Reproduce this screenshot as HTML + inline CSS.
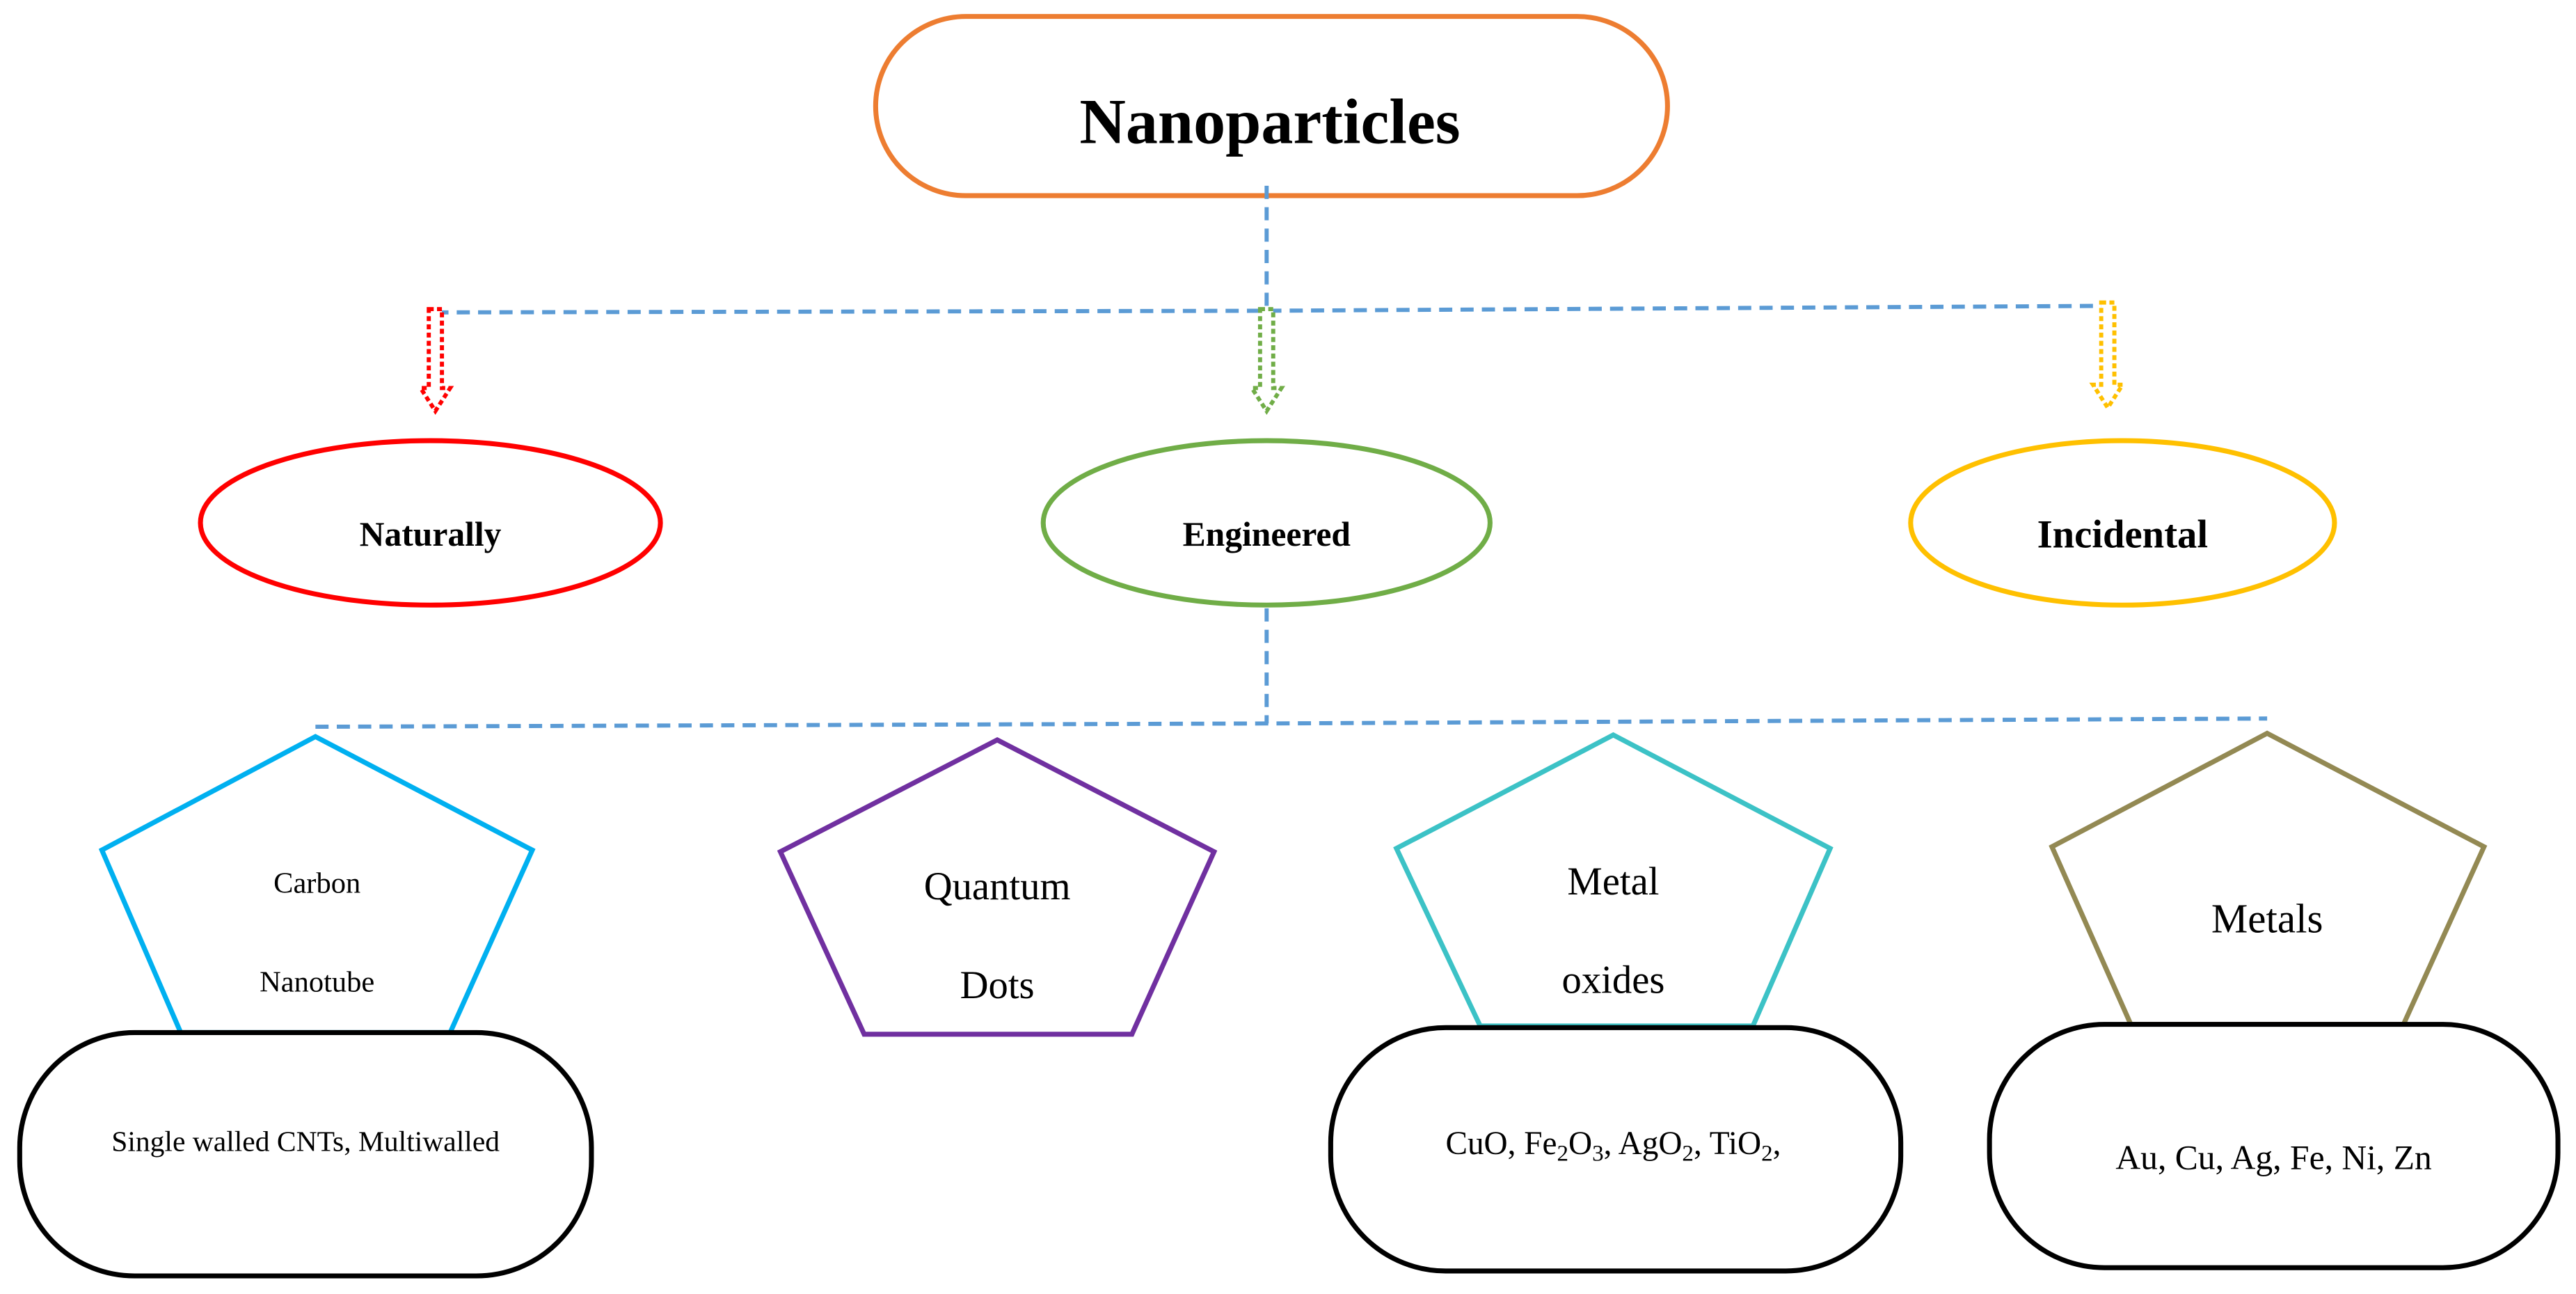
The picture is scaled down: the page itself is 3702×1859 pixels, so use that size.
<!DOCTYPE html>
<html><head><meta charset="utf-8"><style>html,body{margin:0;padding:0;background:#fff}svg{display:block}</style></head>
<body>
<svg width="3702" height="1859" viewBox="0 0 1568 787" preserveAspectRatio="none" xmlns="http://www.w3.org/2000/svg" font-family="'Liberation Serif', serif">
<rect x="533" y="10" width="482" height="109" rx="55" ry="55" fill="#fff" stroke="#ED7D31" stroke-width="3"/>
<text x="773" y="87" text-anchor="middle" font-size="39" font-weight="bold">Nanoparticles</text>
<g stroke="#5B9BD5" stroke-width="2.5" fill="none" stroke-dasharray="8,5">
<line x1="771" y1="113" x2="771" y2="190"/>
<polyline points="265,190 771,189 1285,186"/>
<line x1="771" y1="370" x2="771" y2="440"/>
<polyline points="192,442 771,440 1380,437"/>
</g>
<g fill="#fff" stroke-width="2.5" stroke-dasharray="3,2">
<path d="M261,188 h8 v48 h5 l-9,14 l-9,-14 h5 z" stroke="#FF0000"/>
<path d="M767,188 h8 v48 h5 l-9,14 l-9,-14 h5 z" stroke="#70AD47"/>
<path d="M1279,184 h8 v50 h5 l-9,14 l-9,-14 h5 z" stroke="#FFC000"/>
</g>
<ellipse cx="262" cy="318" rx="140" ry="50" fill="#fff" stroke="#FF0000" stroke-width="3"/>
<ellipse cx="771" cy="318" rx="136" ry="50" fill="#fff" stroke="#70AD47" stroke-width="3"/>
<ellipse cx="1292" cy="318" rx="129" ry="50" fill="#fff" stroke="#FFC000" stroke-width="3"/>
<g font-weight="bold" text-anchor="middle">
<text x="262" y="332" font-size="21">Naturally</text>
<text x="771" y="332" font-size="21">Engineered</text>
<text x="1292" y="333" font-size="24">Incidental</text>
</g>
<g fill="#fff" stroke-width="3">
<polygon points="192,448 324,517 274,628 110,628 62,517" stroke="#00B0F0"/>
<polygon points="607,450 739,518 689,629 526,629 475,518" stroke="#7030A0"/>
<polygon points="982,447 1114,516 1067,624 901,624 850,516" stroke="#3CC2C6"/>
<polygon points="1380,446 1512,515 1463,623 1297,623 1249,515" stroke="#938953"/>
</g>
<g fill="#fff" stroke="#000" stroke-width="3">
<rect x="12" y="628" width="348" height="148" rx="70" ry="70"/>
<rect x="810" y="625" width="347" height="148" rx="70" ry="70"/>
<rect x="1211" y="623" width="346" height="148" rx="70" ry="70"/>
</g>
<g text-anchor="middle">
<text x="193" y="543" font-size="18">Carbon</text>
<text x="193" y="603" font-size="18">Nanotube</text>
<text x="607" y="547" font-size="24">Quantum</text>
<text x="607" y="607" font-size="24">Dots</text>
<text x="982" y="544" font-size="24">Metal</text>
<text x="982" y="604" font-size="24">oxides</text>
<text x="1380" y="567" font-size="25">Metals</text>
<text x="186" y="700" font-size="17.6">Single walled CNTs, Multiwalled</text>
<text x="982" y="702" font-size="20">CuO, Fe<tspan font-size="14" dy="4">2</tspan><tspan dy="-4">O</tspan><tspan font-size="14" dy="4">3</tspan><tspan dy="-4">, AgO</tspan><tspan font-size="14" dy="4">2</tspan><tspan dy="-4">, TiO</tspan><tspan font-size="14" dy="4">2</tspan><tspan dy="-4">,</tspan></text>
<text x="1384" y="711" font-size="21">Au, Cu, Ag, Fe, Ni, Zn</text>
</g>
</svg>
</body></html>
